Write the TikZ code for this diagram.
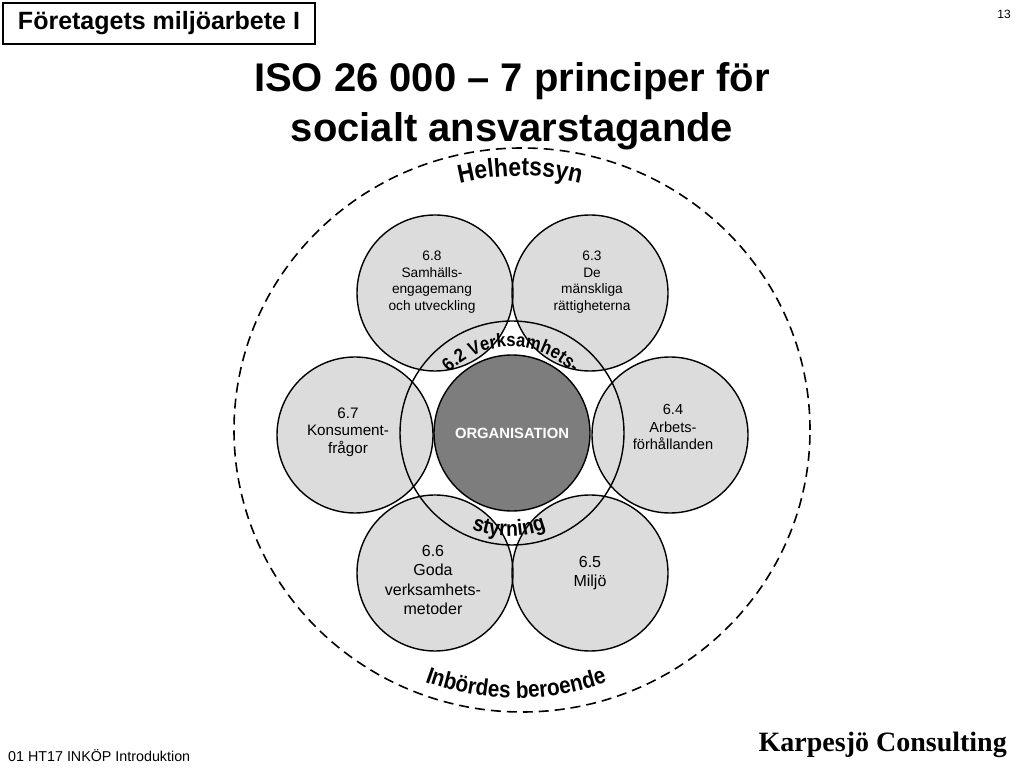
\documentclass[tikz,border=0pt]{standalone}
\usepackage{fontspec}
\setmainfont{Liberation Sans}
\newfontfamily\logofont{Liberation Serif}
\newfontfamily\curvefont[FakeStretch=0.88]{Liberation Sans}
\usetikzlibrary{decorations.text}
\definecolor{petalgray}{HTML}{DCDCDC}
\definecolor{orggray}{HTML}{7D7D7D}
\begin{document}
\begin{tikzpicture}[x=1pt,y=1pt,
  petal/.style={circle, draw, line width=1.4pt, minimum size=156pt, inner sep=0pt},
  ptext/.style={align=center, font=\fontsize{13.7}{16.5}\selectfont, inner sep=0pt},
  ringc/.style={circle, draw, line width=1.4pt, minimum size=224pt, inner sep=0pt},
  orgc/.style={circle, draw, line width=1.4pt, fill=orggray, minimum size=156pt, inner sep=0pt,
    text=white, font=\bfseries\fontsize{14.8}{16}\selectfont},
  outerc/.style={dashed, dash pattern=on 10pt off 6pt, line width=1.6pt},
  curvetxt/.style={decorate, decoration={text along path, text align=center, text={#1}}}
]
\useasboundingbox (0,0) rectangle (1024,768);

% header
\node[draw, line width=1.8pt, minimum width=312pt, minimum height=41pt, inner sep=0pt,
  font=\bfseries\fontsize{25}{28}\selectfont] (hdr) at (159,744.5) {Företagets miljöarbete I};
\node[font=\fontsize{12}{14}\selectfont] (pg) at (1004,754) {13};

% title
\node[align=center, font=\bfseries\fontsize{40}{50}\selectfont, inner sep=0pt] (title) at (512,662)
  {ISO 26 000 – 7 principer för\\socialt ansvarstagande};

% petal fills
\fill[petalgray] (435,475) circle[radius=78pt];
\fill[petalgray] (590,475) circle[radius=78pt];
\fill[petalgray] (355,333) circle[radius=78pt];
\fill[petalgray] (670,333) circle[radius=78pt];
\fill[petalgray] (435,195) circle[radius=78pt];
\fill[petalgray] (590,195) circle[radius=78pt];

% ring
\node[ringc] (ring) at (512,335) {};

% petal outlines
\node[petal] (p68) at (435,475) {};
\node[petal] (p63) at (590,475) {};
\node[petal] (p67) at (355,333) {};
\node[petal] (p64) at (670,333) {};
\node[petal] (p66) at (435,195) {};
\node[petal] (p65) at (590,195) {};

% organisation
\node[orgc] (org) at (512,335) {ORGANISATION};

% petal texts
\node[ptext] (t68) at (432,486) {6.8\\Samhälls-\\engagemang\\och utveckling};
\node[ptext] (t63) at (592,486) {6.3\\De\\mänskliga\\rättigheterna};
\node[ptext, font=\fontsize{15.2}{17.5}\selectfont] (t67) at (348,336) {6.7\\Konsument-\\frågor};
\node[ptext, font=\fontsize{14.6}{17.5}\selectfont] (t64) at (673,341) {6.4\\Arbets-\\förhållanden};
\node[ptext, font=\fontsize{16}{19.3}\selectfont] (t66) at (433,188) {6.6\\Goda\\verksamhets-\\metoder};
\node[ptext, font=\fontsize{16}{19.3}\selectfont] (t65) at (590,195) {6.5\\Miljö};

% outer dashed circle
\draw[outerc] (522,338) ellipse[x radius=288pt, y radius=282pt];

% curved texts
\path[curvetxt={|\curvefont\bfseries\fontsize{26}{26}\selectfont|Helhetssyn}]
  (520,338) ++(160:254pt) arc[start angle=160, end angle=20, radius=254pt];
\path[curvetxt={|\curvefont\bfseries\fontsize{23.5}{23.5}\selectfont|Inbördes beroende}]
  (516,338) ++(200:268pt) arc[start angle=200, end angle=340, radius=268pt];
\path[curvetxt={|\curvefont\bfseries\fontsize{19}{19}\selectfont|6.2 Verksamhets-}]
  (511,335) ++(170:86pt) arc[start angle=170, end angle=10, radius=86pt];
\path[curvetxt={|\curvefont\bfseries\fontsize{22}{22}\selectfont|styrning}]
  (509,335) ++(200:103pt) arc[start angle=200, end angle=340, radius=103pt];

% footer
\node[anchor=base west, inner sep=0pt, font=\fontsize{14.3}{16}\selectfont] (foot) at (8,7) {01 HT17 INKÖP Introduktion};
\node[anchor=base east, inner sep=0pt, font=\logofont\bfseries\fontsize{28}{30}\selectfont] (logo) at (1007,17) {Karpesjö Consulting};
\end{tikzpicture}
\end{document}
